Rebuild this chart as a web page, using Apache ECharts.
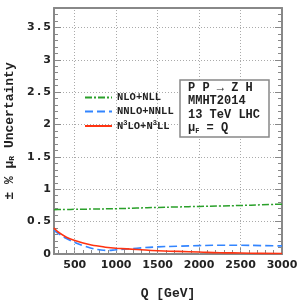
<!DOCTYPE html>
<html><head><meta charset="utf-8">
<script src="https://cdn.jsdelivr.net/npm/echarts@6/dist/echarts.min.js"></script>
<style>html,body{margin:0;padding:0;background:#fff}#c{width:300px;height:300px}</style>
</head><body><div id="c"></div>
<script>
var qValues = [250, 300, 400, 500, 600, 700, 800, 900, 1000, 1250, 1500, 1750, 2000, 2250, 2500, 2750, 3000];
var nloNll = [0.685, 0.686, 0.688, 0.69, 0.692, 0.694, 0.696, 0.698, 0.70, 0.71, 0.72, 0.727, 0.735, 0.742, 0.75, 0.76, 0.77];
var nnloNnll = [0.37, 0.32, 0.24, 0.18, 0.13, 0.09, 0.065, 0.055, 0.065, 0.09, 0.11, 0.12, 0.13, 0.135, 0.135, 0.13, 0.125];
var n3loN3ll = [0.40, 0.34, 0.26, 0.21, 0.17, 0.14, 0.12, 0.10, 0.09, 0.07, 0.05, 0.04, 0.03, 0.02, 0.015, 0.01, 0.008];
var xTicks = [500, 1000, 1500, 2000, 2500, 3000];
var xMinorTicks = [300, 400, 600, 700, 800, 900, 1100, 1200, 1300, 1400, 1600, 1700, 1800, 1900, 2100, 2200, 2300, 2400, 2600, 2700, 2800, 2900];
var seriesNames = ['NLO+NLL', 'NNLO+NNLL', 'N3LO+N3LL'];

function pairs(ys){ return qValues.map(function(q,i){ return [q, ys[i]]; }); }
var mono = 'Liberation Mono';
var sans = 'DejaVu Sans';
var axisCol = '#888';
var txt = '#222';
var chart = echarts.init(document.getElementById('c'));
var gridLine = {type:[1,2], color:'#aaa', width:1};
var xBase = {
  type:'value', min:250, max:3000,
  axisLine:{show:true, lineStyle:{color:axisCol, width:2}},
  axisLabel:{show:false},
  axisTick:{show:false},
  minorTick:{show:false},
  splitLine:{show:false}
};
var yBase = {
  type:'value', min:0, max:3.8, interval:0.5,
  axisLine:{show:true, lineStyle:{color:axisCol, width:2}},
  axisTick:{show:true, inside:true, length:7, lineStyle:{color:axisCol}},
  minorTick:{show:true, splitNumber:5, length:4, lineStyle:{color:axisCol}},
  splitLine:{show:false}
};
chart.setOption({
  animation:false,
  grid:{left:54, right:18, top:8, bottom:46, outerBoundsMode:'none', containLabel:false},
  xAxis:[
    Object.assign({}, xBase, {
      position:'bottom',
      axisTick:{show:true, inside:true, length:7, customValues:xTicks, lineStyle:{color:axisCol}},
      axisLabel:{show:true, customValues:xTicks, fontFamily:sans, fontWeight:'bold', fontSize:11, color:txt, margin:6,
        formatter:function(v){ return String(v); }},
      name:'Q [GeV]', nameLocation:'middle', nameGap:33,
      nameTextStyle:{fontFamily:mono, fontWeight:'bold', fontSize:13, color:txt}
    }),
    Object.assign({}, xBase, {
      position:'bottom',
      axisTick:{show:true, inside:true, length:4, customValues:xMinorTicks, lineStyle:{color:axisCol}}
    }),
    Object.assign({}, xBase, {position:'top'})
  ],
  yAxis:[
    Object.assign({}, yBase, {
      position:'left',
      axisLabel:{fontFamily:sans, fontWeight:'bold', fontSize:11, color:txt, showMaxLabel:false, margin:3,
        formatter:function(v){ return String(v).replace('.', '\u2009.\u2009'); }},
      splitLine:{show:true, lineStyle:gridLine},
      name:'{a|± % μ}{s|R}{a| Uncertainty}', nameLocation:'middle', nameGap:36,
      nameTextStyle:{fontFamily:mono, fontWeight:'bold', fontSize:13, color:txt,
        rich:{a:{fontFamily:mono, fontWeight:'bold', fontSize:13, color:txt},
              s:{fontFamily:mono, fontWeight:'bold', fontSize:8, color:txt, verticalAlign:'bottom', padding:[6,0,0,0]}}}
    }),
    Object.assign({}, yBase, {position:'right', axisLabel:{show:false}})
  ],
  legend:{
    left:79, top:87, orient:'vertical', itemGap:3, itemWidth:27, itemHeight:11,
    itemStyle:{opacity:0},
    data:seriesNames,
    formatter:function(n){ return n==='N3LO+N3LL' ? '{a|N}{s|3}{a|LO+N}{s|3}{a|LL}' : '{a|'+n+'}'; },
    textStyle:{fontFamily:mono, fontWeight:'bold', fontSize:10.5, color:txt,
      rich:{a:{fontFamily:mono, fontWeight:'bold', fontSize:10.5, color:txt},
            s:{fontFamily:mono, fontWeight:'bold', fontSize:7, color:txt, verticalAlign:'top', padding:[0,0,5,0]}}}
  },
  series:[
    {name:seriesNames[0], type:'line', smooth:true, symbol:'none', data:pairs(nloNll),
     lineStyle:{color:'#2aa02a', width:1.5, type:[7,2,2,2]}, itemStyle:{color:'#2aa02a'},
     markLine:{silent:true, symbol:'none', label:{show:false}, lineStyle:gridLine, z:1,
       data:xTicks.slice(0,5).map(function(v){ return {xAxis:v}; })}},
    {name:seriesNames[1], type:'line', smooth:true, symbol:'none', data:pairs(nnloNnll),
     lineStyle:{color:'#3385ff', width:1.6, type:[8,4]}, itemStyle:{color:'#3385ff'}},
    {name:seriesNames[2], type:'line', smooth:true, symbol:'none', data:pairs(n3loN3ll),
     lineStyle:{color:'#ff3311', width:1.6}, itemStyle:{color:'#ff3311'}}
  ],
  graphic:[
    {type:'rect', shape:{x:180, y:80, width:89, height:57}, style:{fill:'#fff', stroke:'#888', lineWidth:1.5}, z:100},
    {type:'text', left:188, top:82, z:101, style:{text:'P P → Z H', font:'bold 12px "Liberation Mono"', fill:txt}},
    {type:'text', left:188, top:95, z:101, style:{text:'MMHT2014', font:'bold 12px "Liberation Mono"', fill:txt}},
    {type:'text', left:188, top:109, z:101, style:{text:'13 TeV LHC', font:'bold 12px "Liberation Mono"', fill:txt}},
    {type:'text', left:188, top:122, z:101, style:{text:'{a|μ}{s|F}{a| = Q}', font:'bold 12px "Liberation Mono"', fill:txt,
      rich:{a:{fontFamily:mono, fontWeight:'bold', fontSize:12, fill:txt}, s:{fontFamily:mono, fontWeight:'bold', fontSize:7, fill:txt, verticalAlign:'bottom', padding:[6,0,0,0]}}}}
  ]
});
</script></body></html>
